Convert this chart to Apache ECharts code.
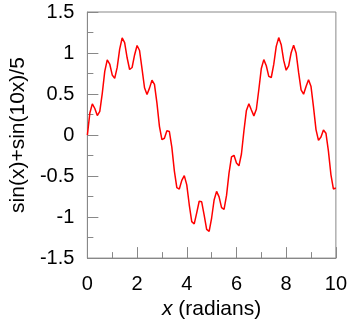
<!DOCTYPE html>
<html><head><meta charset="utf-8">
<script src="https://cdn.jsdelivr.net/npm/echarts@6/dist/echarts.min.js"></script>
<style>html,body{margin:0;padding:0;background:#fff}#c{width:350px;height:325px}</style>
</head><body><div id="c"></div>
<script>
const xValues = [0,0.1,0.2,0.3,0.4,0.5,0.6,0.7,0.8,0.9,1,1.1,1.2,1.3,1.4,1.5,1.6,1.7,1.8,1.9,2,2.1,2.2,2.3,2.4,2.5,2.6,2.7,2.8,2.9,3,3.1,3.2,3.3,3.4,3.5,3.6,3.7,3.8,3.9,4,4.1,4.2,4.3,4.4,4.5,4.6,4.7,4.8,4.9,5,5.1,5.2,5.3,5.4,5.5,5.6,5.7,5.8,5.9,6,6.1,6.2,6.3,6.4,6.5,6.6,6.7,6.8,6.9,7,7.1,7.2,7.3,7.4,7.5,7.6,7.7,7.8,7.9,8,8.1,8.2,8.3,8.4,8.5,8.6,8.7,8.8,8.9,9,9.1,9.2,9.3,9.4,9.5,9.6,9.7,9.8,9.9,10];
const yValues = [0,0.2681,0.3806,0.3237,0.2380,0.2876,0.5087,0.7756,0.9153,0.8657,
0.7327,0.6912,0.8247,1.0476,1.1835,1.1276,0.9420,0.7994,0.8236,0.9763,
1.0919,1.0305,0.8067,0.5765,0.4944,0.5720,0.6680,0.6187,0.3892,0.1065,
-0.0565,-0.0392,0.0519,0.0423,-0.1497,-0.4364,-0.6409,-0.6585,-0.5526,-0.4950,
-0.6078,-0.8500,-1.0549,-1.0826,-0.9481,-0.8073,-0.8133,-0.9752,-1.1499,-1.1733,
-1.0114,-0.7918,-0.6862,-0.7531,-0.8846,-0.9055,-0.7356,-0.4635,-0.2660,-0.2466,
-0.3404,-0.3754,-0.2309,0.0503,0.3005,0.3805,0.3062,0.2337,0.3145,0.5554,
0.8118,0.9192,0.8445,0.7150,0.7017,0.8604,1.0811,1.1881,1.1013,0.9101,
0.7906,0.8439,1.0033,1.0959,1.0013,0.7633,0.5497,0.4986,0.5920,0.6730,
0.5909,0.3403,0.0670,-0.0652,-0.0243,0.0615,0.0224,-0.1959,-0.4812,-0.6573,-0.6453];
const xTitle = ['x', ' (radians)'];
const yTitle = 'sin(x)+sin(10x)/5';

const font = '"Liberation Sans", Arial, sans-serif';
const axisColor = '#888888';
const chart = echarts.init(document.getElementById('c'), null, {renderer: 'canvas'});
chart.setOption({
  animation: false,
  grid: {left: 85, right: 12, top: 12, bottom: 60, show: true, borderColor: axisColor, borderWidth: 1},
  xAxis: {
    type: 'value', min: 0, max: 10, interval: 2,
    name: '{i|' + xTitle[0] + '}{n|' + xTitle[1] + '}',
    nameLocation: 'middle', nameGap: 39,
    nameTextStyle: {rich: {
      i: {fontFamily: font, fontSize: 21, fontStyle: 'italic', color: '#000'},
      n: {fontFamily: font, fontSize: 21, color: '#000'}
    }},
    axisLine: {onZero: false, lineStyle: {color: axisColor, width: 1}},
    axisTick: {inside: true, length: 11, lineStyle: {color: axisColor}},
    minorTick: {show: true, splitNumber: 2, length: 6, lineStyle: {color: axisColor}},
    axisLabel: {fontFamily: font, fontSize: 20, color: '#000', margin: 16},
    splitLine: {show: false}
  },
  yAxis: {
    type: 'value', min: -1.5, max: 1.5, interval: 0.5,
    name: yTitle, nameLocation: 'middle', nameGap: 58, nameRotate: 90,
    nameTextStyle: {fontFamily: font, fontSize: 21, color: '#000'},
    axisLine: {onZero: false, lineStyle: {color: axisColor, width: 1}},
    axisTick: {inside: true, length: 11, lineStyle: {color: axisColor}},
    minorTick: {show: true, splitNumber: 2, length: 6, lineStyle: {color: axisColor}},
    axisLabel: {fontFamily: font, fontSize: 20, color: '#000', margin: 13},
    splitLine: {show: false}
  },
  series: [{
    type: 'line', data: xValues.map((x, i) => [x, yValues[i]]),
    showSymbol: false, smooth: false,
    lineStyle: {color: '#ff0000', width: 1.5}
  }]
});
</script></body></html>
